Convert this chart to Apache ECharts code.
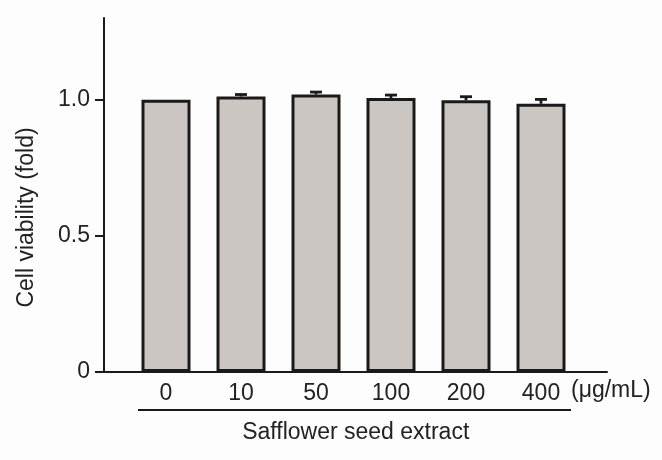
<!DOCTYPE html>
<html>
<head>
<meta charset="utf-8">
<style>html,body{margin:0;padding:0;background:#fdfdfd;}#c{width:662px;height:460px;}</style>
<script src="https://cdn.jsdelivr.net/npm/echarts@6/dist/echarts.min.js"></script>
</head>
<body>
<div id="c"></div>
<script>
var categories = ['0', '10', '50', '100', '200', '400'];
var viability = [1.0, 1.012, 1.019, 1.006, 0.998, 0.985];
var errors = [0, 0.007, 0.009, 0.011, 0.013, 0.016];
var yTicks = [0, 0.5, 1.0];
var yTitle = 'Cell viability (fold)';
var unitLabel = '(\u03bcg/mL)';
var groupLabel = 'Safflower seed extract';

var FONT = '"Liberation Sans", Arial, sans-serif';
var FS = 23;
var INK = '#1a1a1a';
var TXT = '#222';

var chart = echarts.init(document.getElementById('c'), null, {renderer: 'canvas'});
chart.setOption({
  backgroundColor: '#fdfdfd',
  animation: false,
  grid: [
    {left: 128.5, width: 450, top: 18, height: 354},
    {left: 104, width: 503, top: 18, height: 354}
  ],
  xAxis: [
    {
      type: 'category', gridIndex: 0, data: categories,
      axisLine: {show: false}, axisTick: {show: false},
      axisLabel: {fontSize: FS, color: TXT, fontFamily: FONT, margin: 10}
    },
    {
      type: 'value', gridIndex: 1, min: 0, max: 1,
      axisLine: {show: true, lineStyle: {color: INK, width: 2}},
      axisTick: {show: false}, axisLabel: {show: false}, splitLine: {show: false}
    }
  ],
  yAxis: [
    {
      type: 'value', gridIndex: 0, min: 0, max: 1.3, offset: 24.5,
      axisLine: {show: true, lineStyle: {color: INK, width: 2}},
      axisTick: {show: true, length: 9, customValues: yTicks, lineStyle: {color: INK, width: 2}},
      axisLabel: {
        customValues: yTicks, fontSize: FS, color: TXT, fontFamily: FONT, margin: 14,
        formatter: function (v) { return v === 0 ? '0' : v.toFixed(1); }
      },
      splitLine: {show: false}
    },
    {type: 'value', gridIndex: 1, min: 0, max: 1, show: false}
  ],
  series: [
    {
      type: 'bar', xAxisIndex: 0, yAxisIndex: 0, data: viability, barWidth: 49,
      itemStyle: {color: '#ccc6c3', borderColor: INK, borderWidth: 3},
      z: 2
    },
    {
      type: 'custom', xAxisIndex: 0, yAxisIndex: 0, z: 3,
      data: viability.map(function (v, i) { return [i, v, errors[i]]; }),
      renderItem: function (params, api) {
        var e = api.value(2);
        if (!e) return null;
        var p0 = api.coord([api.value(0), api.value(1)]);
        var p1 = api.coord([api.value(0), api.value(1) + e]);
        var hw = 6;
        var st = {stroke: INK, lineWidth: 2.8};
        return {
          type: 'group',
          children: [
            {type: 'line', shape: {x1: p0[0], y1: p0[1], x2: p1[0], y2: p1[1]}, style: st},
            {type: 'line', shape: {x1: p1[0] - hw, y1: p1[1], x2: p1[0] + hw, y2: p1[1]}, style: st}
          ]
        };
      }
    }
  ],
  graphic: [
    {type: 'text', x: 27, y: 217.5, rotation: Math.PI / 2,
     style: {text: yTitle, fontSize: FS, fontFamily: FONT, fill: TXT, align: 'center', verticalAlign: 'middle'}},
    {type: 'text', x: 571, y: 391,
     style: {text: unitLabel, fontSize: FS, fontFamily: FONT, fill: TXT, align: 'left', verticalAlign: 'middle'}},
    {type: 'line', shape: {x1: 138, y1: 410, x2: 571, y2: 410}, style: {stroke: INK, lineWidth: 2}},
    {type: 'text', x: 355.7, y: 433,
     style: {text: groupLabel, fontSize: FS, fontFamily: FONT, fill: TXT, align: 'center', verticalAlign: 'middle'}}
  ]
});
</script>
</body>
</html>
